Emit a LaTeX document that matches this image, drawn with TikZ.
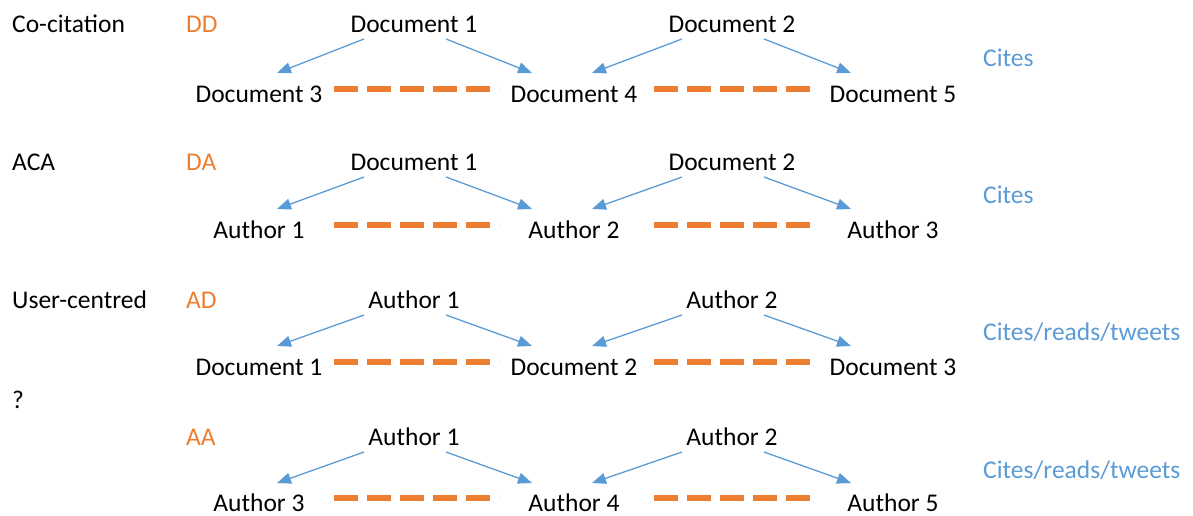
\documentclass[tikz,border=0pt]{standalone}
\usepackage{fontspec}
\setmainfont{Carlito}
\usetikzlibrary{arrows.meta,calc}
\definecolor{orangeC}{HTML}{ED7D31}
\definecolor{blueC}{HTML}{5B9BD5}
\begin{document}
\begin{tikzpicture}[x=1pt,y=-1pt,
  lbl/.style={font=\fontsize{25.5}{30}\selectfont, inner sep=0pt, anchor=base},
  lft/.style={lbl, anchor=base west},
  code/.style={lft, text=orangeC},
  rel/.style={lft, text=blueC},
  arr/.style={draw=blueC, line width=1.3pt, -{Triangle[length=14pt,width=11pt]}},
  link/.style={draw=orangeC, line width=6pt, dash pattern=on 24pt off 9pt}]
\useasboundingbox (0,0) rectangle (1193,515);
% ---------- Row 1 ----------
\node[lft] (n1) at (12,32) {Co-citation};
\node[code] (c1) at (186,32) {DD};
\node[rel] (r1) at (983,66) {Cites};
\node[lbl] (t11) at (414,32) {Document 1};
\node[lbl] (t12) at (732,32) {Document 2};
\node[lbl] (b11) at (259,102) {Document 3};
\node[lbl] (b12) at (574,102) {Document 4};
\node[lbl] (b13) at (893,102) {Document 5};
\coordinate (d11) at (334,89); \coordinate (d12) at (499,89);
\coordinate (d13) at (654,89); \coordinate (d14) at (810,89);
\draw[arr] ($(t11.base)+(-50,7)$) -- ($(b11.base)+(18,-29)$);
\draw[arr] ($(t11.base)+(32,7)$) -- ($(b12.base)+(-42,-29)$);
\draw[arr] ($(t12.base)+(-50,7)$) -- ($(b12.base)+(18,-29)$);
\draw[arr] ($(t12.base)+(32,7)$) -- ($(b13.base)+(-42,-29)$);
\draw[link] (d11) -- (d12);
\draw[link] (d13) -- (d14);
% ---------- Row 2 ----------
\node[lft] (n2) at (12,170) {ACA};
\node[code] (c2) at (186,170) {DA};
\node[rel] (r2) at (983,203) {Cites};
\node[lbl] (t21) at (414,170) {Document 1};
\node[lbl] (t22) at (732,170) {Document 2};
\node[lbl] (b21) at (259,238) {Author 1};
\node[lbl] (b22) at (574,238) {Author 2};
\node[lbl] (b23) at (893,238) {Author 3};
\coordinate (d21) at (334,225); \coordinate (d22) at (499,225);
\coordinate (d23) at (654,225); \coordinate (d24) at (810,225);
\draw[arr] ($(t21.base)+(-50,7)$) -- ($(b21.base)+(18,-29)$);
\draw[arr] ($(t21.base)+(32,7)$) -- ($(b22.base)+(-42,-29)$);
\draw[arr] ($(t22.base)+(-50,7)$) -- ($(b22.base)+(18,-29)$);
\draw[arr] ($(t22.base)+(32,7)$) -- ($(b23.base)+(-42,-29)$);
\draw[link] (d21) -- (d22);
\draw[link] (d23) -- (d24);
% ---------- Row 3 ----------
\node[lft] (n3) at (12,308) {User-centred};
\node[code] (c3) at (186,308) {AD};
\node[rel] (r3) at (983,340) {Cites/reads/tweets};
\node[lbl] (t31) at (414,308) {Author 1};
\node[lbl] (t32) at (732,308) {Author 2};
\node[lbl] (b31) at (259,375) {Document 1};
\node[lbl] (b32) at (574,375) {Document 2};
\node[lbl] (b33) at (893,375) {Document 3};
\coordinate (d31) at (334,362); \coordinate (d32) at (499,362);
\coordinate (d33) at (654,362); \coordinate (d34) at (810,362);
\draw[arr] ($(t31.base)+(-50,7)$) -- ($(b31.base)+(18,-29)$);
\draw[arr] ($(t31.base)+(32,7)$) -- ($(b32.base)+(-42,-29)$);
\draw[arr] ($(t32.base)+(-50,7)$) -- ($(b32.base)+(18,-29)$);
\draw[arr] ($(t32.base)+(32,7)$) -- ($(b33.base)+(-42,-29)$);
\draw[link] (d31) -- (d32);
\draw[link] (d33) -- (d34);
% ---------- Row 4 ----------
\node[lft] (n4) at (12,408) {?};
\node[code] (c4) at (186,445) {AA};
\node[rel] (r4) at (983,478) {Cites/reads/tweets};
\node[lbl] (t41) at (414,445) {Author 1};
\node[lbl] (t42) at (732,445) {Author 2};
\node[lbl] (b41) at (259,511) {Author 3};
\node[lbl] (b42) at (574,511) {Author 4};
\node[lbl] (b43) at (893,511) {Author 5};
\coordinate (d41) at (334,498); \coordinate (d42) at (499,498);
\coordinate (d43) at (654,498); \coordinate (d44) at (810,498);
\draw[arr] ($(t41.base)+(-50,7)$) -- ($(b41.base)+(18,-28)$);
\draw[arr] ($(t41.base)+(32,7)$) -- ($(b42.base)+(-42,-28)$);
\draw[arr] ($(t42.base)+(-50,7)$) -- ($(b42.base)+(18,-28)$);
\draw[arr] ($(t42.base)+(32,7)$) -- ($(b43.base)+(-42,-28)$);
\draw[link] (d41) -- (d42);
\draw[link] (d43) -- (d44);
\end{tikzpicture}
\end{document}
